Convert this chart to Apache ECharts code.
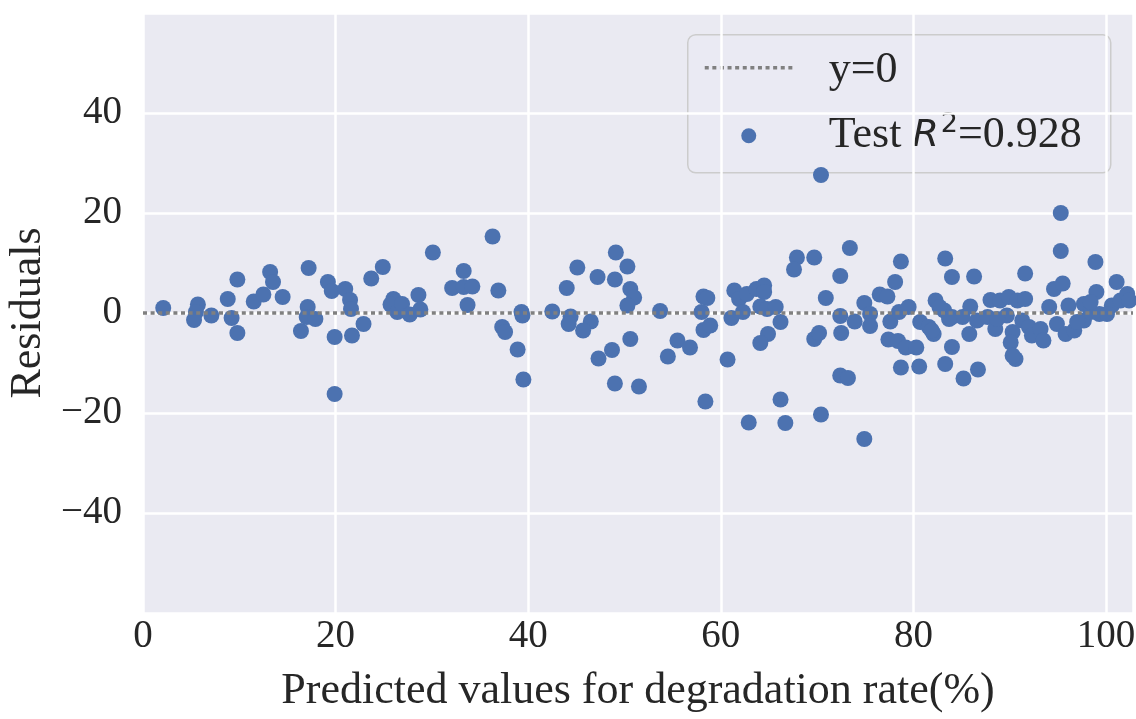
<!DOCTYPE html>
<html>
<head>
<meta charset="utf-8">
<script src="https://cdn.jsdelivr.net/npm/echarts@6/dist/echarts.min.js"></script>
<style>html,body{margin:0;padding:0;background:#fff;}#c{width:1136px;height:719px;}</style>
</head>
<body>
<div id="c"></div>
<script>
// Predicted values (x) and residuals (y)
const predicted = [2.1,5.7,5.5,5.3,7.1,8.8,9.2,9.8,9.8,11.5,12.5,13.2,13.5,14.5,16.4,17.1,17.2,17.0,17.9,19.2,19.6,21.0,21.5,21.6,22.9,19.9,21.7,19.9,23.7,24.9,26.0,25.7,26.4,26.9,27.7,28.6,28.8,30.1,32.1,33.3,33.3,33.7,34.2,36.3,36.9,37.3,37.6,38.9,39.3,39.4,39.5,42.5,44.0,44.4,44.2,45.1,46.5,45.7,47.2,47.3,48.7,49.1,49.0,49.0,50.3,50.6,51.0,50.3,50.6,51.5,53.7,54.5,55.5,56.8,58.2,58.6,58.0,58.2,58.9,58.4,60.7,61.1,61.4,61.9,62.3,62.7,63.7,64.5,64.5,64.1,64.8,65.7,66.2,64.9,64.1,62.9,66.2,66.7,70.4,67.9,67.6,69.7,73.4,72.4,70.9,69.7,70.2,72.4,72.5,73.9,74.9,75.5,75.5,72.4,73.2,70.4,74.9,76.5,77.3,78.1,78.7,77.6,77.4,78.4,78.5,79.5,79.2,80.3,78.7,80.6,80.7,81.6,82.1,82.3,83.3,84.0,83.3,84.0,86.3,83.2,84.0,85.1,85.8,85.2,86.7,85.9,86.6,88.0,87.7,88.5,89.0,89.9,90.8,91.6,91.6,89.7,90.3,90.1,90.6,90.3,91.3,92.0,92.3,93.2,93.5,94.1,94.6,95.5,95.3,95.3,94.9,95.8,96.1,96.7,97.7,97.7,99.0,98.9,98.4,99.3,100.6,101.1,101.5,102.2,102.4,100.1,81.9,82.7,83.7,88.7,97.0,98.4];
const residuals = [1.0,1.7,0.2,-1.4,-0.5,2.8,-1.0,6.7,-4.0,2.3,3.7,8.2,6.2,3.2,-3.6,1.2,9.0,-0.8,-1.2,6.2,4.4,4.8,2.6,0.8,-2.2,-4.8,-4.5,-16.2,6.9,9.2,2.8,1.7,0.2,1.8,-0.3,3.6,0.7,12.1,5.0,8.4,5.2,1.6,5.3,15.3,4.5,-2.8,-3.8,-7.3,0.2,-0.5,-13.3,0.3,5.0,-0.7,-2.2,9.1,-1.7,-3.5,7.2,-9.1,-7.4,12.1,6.7,-14.1,9.3,4.8,3.1,1.5,-5.2,-14.7,0.4,-8.7,-5.5,-6.9,3.3,3.0,0.2,-3.4,-2.5,-17.7,-9.3,-1.0,4.5,2.8,0.2,3.8,4.8,5.5,4.2,1.3,0.8,1.2,-1.8,-4.2,-6.0,-21.9,-17.3,-22.0,27.6,11.1,8.7,11.1,13.0,7.4,3.0,-5.2,-4.0,-0.6,-4.0,-1.7,2.0,-0.2,-2.6,-12.5,-13.0,-20.3,-25.2,3.7,3.3,6.2,10.3,-1.7,-5.3,-5.6,0.2,1.2,-6.9,-6.9,-10.9,-10.7,-1.8,-2.8,-4.2,2.5,10.9,7.2,-10.2,-6.8,7.3,0.5,-0.8,-0.8,-4.2,-13.1,-11.3,1.3,-1.5,2.6,-0.8,-3.2,2.5,3.2,2.5,2.8,7.9,-0.5,-3.8,-5.9,-9.2,-8.5,-1.5,-2.8,-4.5,-3.2,-5.5,1.2,4.8,5.9,20.0,12.4,-2.2,-4.2,1.5,-3.5,-1.5,1.8,4.2,10.2,0.2,-0.2,1.5,6.2,2.5,3.8,2.5,-0.2,-3.5,1.2,-1.2,-1.2,-1.8,2.2];
const xTicks = [0, 20, 40, 60, 80, 100];
const yTicks = [-40, -20, 0, 20, 40];
const xRange = [0, 102.8];
const yRange = [-60, 60];
const seriesNames = ['y=0', 'Test R²=0.928'];

const points = predicted.map((x, i) => [x, residuals[i]]);
const serif = 'Liberation Serif';
const fmtNum = v => String(v).replace('-', '\u2212');

const chart = echarts.init(document.getElementById('c'), null, {renderer: 'canvas'});
chart.setOption({
  animation: false,
  backgroundColor: '#ffffff',
  grid: {left: 143, right: 3, top: 13, bottom: 106, show: true, backgroundColor: '#eaeaf2', borderWidth: 0,
         containLabel: false, outerBoundsMode: 'none'},
  xAxis: {
    type: 'value', min: xRange[0], max: xRange[1], interval: 20,
    name: 'Predicted values for degradation rate(%)', nameLocation: 'middle', nameGap: 56,
    nameTextStyle: {fontFamily: serif, fontSize: 44, color: '#262626'},
    axisLine: {show: false}, axisTick: {show: false},
    axisLabel: {fontFamily: serif, fontSize: 39, color: '#262626', margin: 4,
      formatter: v => xTicks.includes(v) ? fmtNum(v) : ''},
    splitLine: {show: true, lineStyle: {color: '#ffffff', width: 2.5}}
  },
  yAxis: {
    type: 'value', min: yRange[0], max: yRange[1], interval: 20,
    name: 'Residuals', nameLocation: 'middle', nameGap: 88, nameRotate: 90,
    nameTextStyle: {fontFamily: serif, fontSize: 44, color: '#262626'},
    axisLine: {show: false}, axisTick: {show: false},
    axisLabel: {fontFamily: serif, fontSize: 39, color: '#262626', margin: 21,
      formatter: v => yTicks.includes(v) ? fmtNum(v) : ''},
    splitLine: {show: true, lineStyle: {color: '#ffffff', width: 2.5}}
  },
  series: [
    {
      name: seriesNames[0], type: 'line', data: [[xRange[0], 0], [xRange[1], 0]],
      symbol: 'none', z: 3,
      lineStyle: {color: '#808080', width: 3.5, type: [4, 3.6]}
    },
    {
      name: seriesNames[1], type: 'scatter', data: points, symbolSize: 16, z: 2,
      itemStyle: {color: '#4c72b0', opacity: 1}
    }
  ],
  graphic: [{
    type: 'group', left: 687, top: 34, z: 100,
    children: [
      {type: 'rect', shape: {x: 0, y: 0, width: 423, height: 138, r: 8},
       style: {fill: 'rgba(234,234,242,0.8)', stroke: '#cccccc', lineWidth: 1.5}},
      {type: 'line', shape: {x1: 17, y1: 33, x2: 106, y2: 33},
       style: {stroke: '#808080', lineWidth: 3.5, lineDash: [4, 3.6]}},
      {type: 'circle', shape: {cx: 61, cy: 101, r: 7.5}, style: {fill: '#4c72b0'}},
      {type: 'text', x: 141, y: 36, style: {text: seriesNames[0], font: '44px "Liberation Serif"', fill: '#262626', verticalAlign: 'middle'}},
      {type: 'text', x: 141, y: 101, style: {
        text: '{t|Test }{r|R}{g| }{s|2}{t|=0.928}', verticalAlign: 'middle',
        rich: {
          t: {fontFamily: serif, fontSize: 44, fill: '#262626'},
          r: {fontFamily: 'DejaVu Sans', fontStyle: 'italic', fontSize: 38, fill: '#262626'},
          g: {fontFamily: serif, fontSize: 8},
          s: {fontFamily: 'DejaVu Sans', fontSize: 27, fill: '#262626', padding: [0, 0, 22, 0]}
        }
      }}
    ]
  }]
});
</script>
</body>
</html>
